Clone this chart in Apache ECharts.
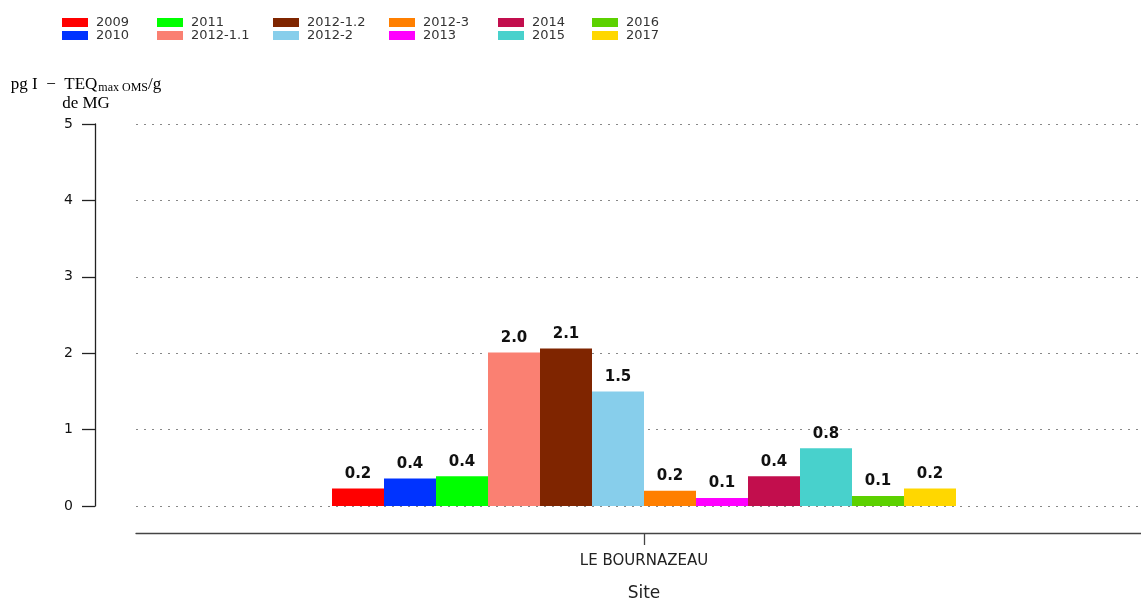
<!DOCTYPE html>
<html>
<head>
<meta charset="utf-8">
<script src="https://cdn.jsdelivr.net/npm/echarts@6/dist/echarts.min.js"></script>
<style>
  html, body { margin: 0; padding: 0; background: #fff; }
  #chart { width: 1141px; height: 599px; }
</style>
</head>
<body>
<div id="chart"></div>
<script>
// données
var sites = ['LE BOURNAZEAU']
var campagnes = ['2009', '2010', '2011', '2012-1.1', '2012-1.2', '2012-2',
                 '2012-3', '2013', '2014', '2015', '2016', '2017']
var valeurs = [0.23, 0.36, 0.39, 2.01, 2.06, 1.50, 0.20, 0.105, 0.39, 0.755, 0.13, 0.23]
var couleurs = ['#ff0000', '#0033ff', '#00ff00', '#fa8072', '#7f2500', '#87ceeb',
                '#ff7f00', '#ff00ff', '#c20e4d', '#48d1cc', '#5cd100', '#ffd700']
var yTicks = [0, 1, 2, 3, 4, 5]

var myChart = echarts.init(document.getElementById('chart'))

// une série par campagne
var series = campagnes.map(function (nom, i) {
    return {
        name: nom,
        type: 'bar',
        data: [valeurs[i]],
        barWidth: 52,
        barGap: '0%',
        itemStyle: { color: couleurs[i] },
        label: {
            show: true,
            position: 'top',
            distance: 7,
            fontFamily: 'DejaVu Sans',
            fontWeight: 'bold',
            fontSize: 15,
            color: '#111',
            formatter: function (p) { return p.value.toFixed(1) }
        }
    }
})

// légende : 6 colonnes de 2 lignes
var legendX = [62, 157, 273, 389, 498, 592]
var legends = legendX.map(function (x, c) {
    return {
        orient: 'vertical',
        left: x,
        top: 16,
        itemWidth: 26,
        itemHeight: 9,
        itemGap: 0,
        icon: 'rect',
        selectedMode: false,
        textStyle: { fontFamily: 'DejaVu Sans', fontSize: 13, lineHeight: 13, color: '#333', padding: [0, 0, 0, 3] },
        padding: 0,
        data: campagnes.slice(c * 2, c * 2 + 2)
    }
})

var option = {
    animation: false,
    backgroundColor: '#fff',
    legend: legends,
    grid: { left: 136, top: 124, width: 1016, height: 382, outerBoundsMode: 'none', containLabel: false },
    xAxis: {
        type: 'category',
        data: sites,
        offset: 27,
        name: 'Site',
        nameLocation: 'middle',
        nameGap: 52,
        nameTextStyle: { fontFamily: 'DejaVu Sans', fontSize: 17, color: '#222' },
        axisLine: { onZero: false, lineStyle: { color: '#444', width: 1.3 } },
        axisTick: { show: true, interval: 0, alignWithLabel: true, length: 12, lineStyle: { color: '#444', width: 1.3 } },
        axisLabel: { margin: 21, fontFamily: 'DejaVu Sans', fontSize: 15, color: '#222' }
    },
    yAxis: {
        type: 'value',
        min: 0,
        max: 5,
        interval: 1,
        offset: 41,
        axisLine: { show: true, lineStyle: { color: '#222', width: 1.3 } },
        axisTick: { show: true, inside: false, length: 13, lineStyle: { color: '#222', width: 1.3 } },
        axisLabel: {
            margin: 22,
            fontFamily: 'DejaVu Sans',
            fontSize: 14,
            color: '#111',
            formatter: function (v) { return yTicks.indexOf(v) >= 0 ? String(v) : '' }
        },
        splitLine: { show: true, lineStyle: { color: '#888', type: [2, 6], width: 1.2 } }
    },
    graphic: [{
        type: 'text',
        x: 86,
        y: 75,
        style: {
            text: '{a|pg I  −  TEQ}{s|max OMS}{a|/g}\n{b|de MG}',
            align: 'center',
            rich: {
                a: { fontFamily: 'Liberation Serif', fontSize: 17, color: '#111', lineHeight: 19 },
                s: { fontFamily: 'Liberation Serif', fontSize: 12, color: '#111', padding: [7, 0, 0, 1], lineHeight: 19 },
                b: { fontFamily: 'Liberation Serif', fontSize: 17, color: '#111', lineHeight: 19 }
            }
        }
    }],
    series: series
}

myChart.setOption(option)
</script>
</body>
</html>
